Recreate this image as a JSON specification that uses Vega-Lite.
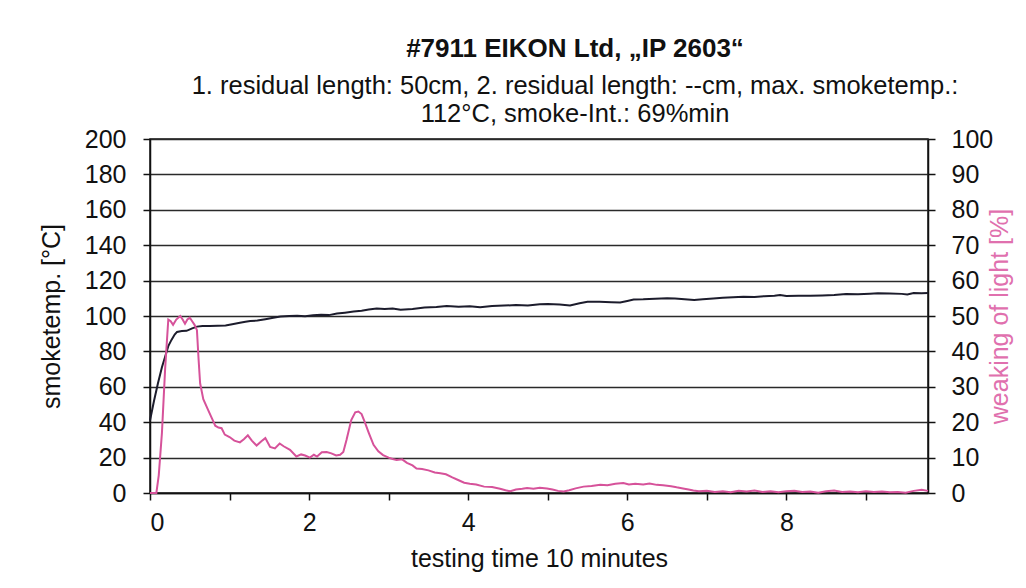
{
  "$schema": "https://vega.github.io/schema/vega-lite/v6.json",
  "width": 778,
  "height": 354,
  "autosize": "none",
  "padding": {"left": 150, "top": 139, "right": 98, "bottom": 95},
  "background": "white",
  "config": {
    "font": "Liberation Sans",
    "view": {"stroke": "#111111", "strokeWidth": 1.5},
    "axis": {
      "labelFont": "Liberation Sans",
      "titleFont": "Liberation Sans",
      "labelFontSize": 25,
      "titleFontSize": 25,
      "titleFontWeight": "normal",
      "labelColor": "#111111",
      "titleColor": "#111111",
      "domainColor": "#111111",
      "domainWidth": 1.5,
      "tickColor": "#111111",
      "tickWidth": 1.5,
      "tickSize": 7,
      "gridColor": "#2a2a2a",
      "gridWidth": 1.5,
      "gridOpacity": 1
    }
  },
  "title": {
    "text": "#7911   EIKON Ltd, „IP 2603“",
    "subtitle": ["1. residual length: 50cm, 2. residual length: --cm, max. smoketemp.:", "112°C, smoke-Int.: 69%min"],
    "font": "Liberation Sans",
    "subtitleFont": "Liberation Sans",
    "fontSize": 26,
    "fontWeight": "bold",
    "color": "#111111",
    "subtitleFontSize": 25.5,
    "subtitleColor": "#111111",
    "subtitleLineHeight": 28,
    "subtitlePadding": 12,
    "anchor": "middle",
    "dx": 36,
    "offset": 0
  },
  "datasets": {
    "temp": [
      {"t": 0, "c": 41}, {"t": 0.05, "c": 52}, {"t": 0.1, "c": 62}, {"t": 0.15, "c": 71}, {"t": 0.19, "c": 77},
      {"t": 0.23, "c": 83}, {"t": 0.27, "c": 86.5}, {"t": 0.31, "c": 89.5}, {"t": 0.34, "c": 91}, {"t": 0.4, "c": 91.5},
      {"t": 0.46, "c": 91.6}, {"t": 0.53, "c": 93}, {"t": 0.59, "c": 94}, {"t": 0.66, "c": 94.3}, {"t": 0.75, "c": 94.4},
      {"t": 0.85, "c": 94.5}, {"t": 0.95, "c": 94.6}, {"t": 1.05, "c": 95.5}, {"t": 1.13, "c": 96.2}, {"t": 1.2, "c": 96.8},
      {"t": 1.26, "c": 97.2}, {"t": 1.35, "c": 97.4}, {"t": 1.45, "c": 98.2}, {"t": 1.55, "c": 99}, {"t": 1.64, "c": 99.7},
      {"t": 1.75, "c": 100}, {"t": 1.85, "c": 100.2}, {"t": 1.95, "c": 99.9}, {"t": 2.05, "c": 100.4}, {"t": 2.15, "c": 100.7},
      {"t": 2.25, "c": 100.5}, {"t": 2.35, "c": 101.4}, {"t": 2.45, "c": 101.9}, {"t": 2.56, "c": 102.5}, {"t": 2.66, "c": 103},
      {"t": 2.75, "c": 103.7}, {"t": 2.85, "c": 104.2}, {"t": 2.95, "c": 104}, {"t": 3.05, "c": 104.2}, {"t": 3.15, "c": 103.5},
      {"t": 3.3, "c": 104}, {"t": 3.45, "c": 104.8}, {"t": 3.6, "c": 105.1}, {"t": 3.73, "c": 105.6}, {"t": 3.88, "c": 105.2},
      {"t": 4.02, "c": 105.5}, {"t": 4.15, "c": 104.9}, {"t": 4.3, "c": 105.6}, {"t": 4.45, "c": 105.9}, {"t": 4.6, "c": 106.2},
      {"t": 4.75, "c": 105.9}, {"t": 4.9, "c": 106.6}, {"t": 5.0, "c": 106.8}, {"t": 5.15, "c": 106.5}, {"t": 5.28, "c": 106},
      {"t": 5.4, "c": 107.2}, {"t": 5.5, "c": 108}, {"t": 5.65, "c": 108.1}, {"t": 5.8, "c": 107.8}, {"t": 5.91, "c": 107.6},
      {"t": 6.0, "c": 108.5}, {"t": 6.08, "c": 109.3}, {"t": 6.2, "c": 109.4}, {"t": 6.35, "c": 109.7}, {"t": 6.5, "c": 110},
      {"t": 6.6, "c": 109.9}, {"t": 6.72, "c": 109.4}, {"t": 6.84, "c": 109}, {"t": 6.95, "c": 109.5}, {"t": 7.08, "c": 109.9},
      {"t": 7.2, "c": 110.3}, {"t": 7.33, "c": 110.6}, {"t": 7.46, "c": 110.9}, {"t": 7.6, "c": 110.8}, {"t": 7.72, "c": 111.2},
      {"t": 7.85, "c": 111.5}, {"t": 7.92, "c": 111.9}, {"t": 8.0, "c": 111.3}, {"t": 8.15, "c": 111.4}, {"t": 8.3, "c": 111.5},
      {"t": 8.45, "c": 111.6}, {"t": 8.6, "c": 111.8}, {"t": 8.75, "c": 112.4}, {"t": 8.9, "c": 112.3}, {"t": 9.05, "c": 112.6},
      {"t": 9.15, "c": 112.8}, {"t": 9.3, "c": 112.7}, {"t": 9.45, "c": 112.5}, {"t": 9.52, "c": 112.2}, {"t": 9.6, "c": 113},
      {"t": 9.7, "c": 112.8}, {"t": 9.78, "c": 113}
    ],
    "light": [
      {"t": 0, "p": 0}, {"t": 0.08, "p": 0}, {"t": 0.11, "p": 5}, {"t": 0.15, "p": 17}, {"t": 0.19, "p": 35},
      {"t": 0.23, "p": 49}, {"t": 0.26, "p": 48.5}, {"t": 0.29, "p": 47.5}, {"t": 0.33, "p": 49}, {"t": 0.38, "p": 50},
      {"t": 0.41, "p": 49}, {"t": 0.44, "p": 47.8}, {"t": 0.47, "p": 49}, {"t": 0.5, "p": 49.5}, {"t": 0.53, "p": 48.5},
      {"t": 0.56, "p": 47.5}, {"t": 0.59, "p": 46}, {"t": 0.61, "p": 38}, {"t": 0.63, "p": 31}, {"t": 0.67, "p": 26.5},
      {"t": 0.73, "p": 23.5}, {"t": 0.78, "p": 21}, {"t": 0.82, "p": 19}, {"t": 0.86, "p": 18.5}, {"t": 0.9, "p": 18.3},
      {"t": 0.94, "p": 16.5}, {"t": 1.0, "p": 15.8}, {"t": 1.06, "p": 14.8}, {"t": 1.13, "p": 14.3}, {"t": 1.18, "p": 15.2},
      {"t": 1.23, "p": 16.3}, {"t": 1.28, "p": 14.8}, {"t": 1.34, "p": 13.4}, {"t": 1.4, "p": 14.6}, {"t": 1.45, "p": 15.5},
      {"t": 1.51, "p": 13}, {"t": 1.57, "p": 12.6}, {"t": 1.63, "p": 14}, {"t": 1.68, "p": 13.2}, {"t": 1.76, "p": 12.2},
      {"t": 1.84, "p": 10.3}, {"t": 1.9, "p": 10.9}, {"t": 1.95, "p": 10.6}, {"t": 2.01, "p": 10}, {"t": 2.06, "p": 10.8},
      {"t": 2.1, "p": 10.3}, {"t": 2.16, "p": 11.5}, {"t": 2.22, "p": 11.6}, {"t": 2.28, "p": 11.2}, {"t": 2.34, "p": 10.6},
      {"t": 2.39, "p": 10.8}, {"t": 2.43, "p": 11.6}, {"t": 2.47, "p": 15}, {"t": 2.53, "p": 20.6}, {"t": 2.58, "p": 22.8},
      {"t": 2.62, "p": 23}, {"t": 2.66, "p": 22.3}, {"t": 2.7, "p": 20}, {"t": 2.75, "p": 17}, {"t": 2.81, "p": 13.6},
      {"t": 2.87, "p": 11.8}, {"t": 2.93, "p": 10.7}, {"t": 3.0, "p": 10}, {"t": 3.05, "p": 9.6}, {"t": 3.1, "p": 9.3},
      {"t": 3.17, "p": 9.5}, {"t": 3.23, "p": 8.5}, {"t": 3.3, "p": 7.8}, {"t": 3.35, "p": 6.9}, {"t": 3.42, "p": 6.8},
      {"t": 3.5, "p": 6.4}, {"t": 3.58, "p": 5.8}, {"t": 3.65, "p": 5.6}, {"t": 3.72, "p": 5.3}, {"t": 3.8, "p": 4.4},
      {"t": 3.88, "p": 3.6}, {"t": 3.95, "p": 2.9}, {"t": 4.02, "p": 2.6}, {"t": 4.1, "p": 2.4}, {"t": 4.2, "p": 1.8},
      {"t": 4.3, "p": 1.7}, {"t": 4.4, "p": 1.2}, {"t": 4.47, "p": 0.8}, {"t": 4.53, "p": 0.5}, {"t": 4.6, "p": 1.0},
      {"t": 4.68, "p": 1.2}, {"t": 4.74, "p": 1.4}, {"t": 4.82, "p": 1.2}, {"t": 4.9, "p": 1.5}, {"t": 4.99, "p": 1.3},
      {"t": 5.06, "p": 1.0}, {"t": 5.13, "p": 0.6}, {"t": 5.2, "p": 0.4}, {"t": 5.27, "p": 0.8}, {"t": 5.35, "p": 1.3},
      {"t": 5.45, "p": 1.8}, {"t": 5.55, "p": 2.0}, {"t": 5.66, "p": 2.3}, {"t": 5.75, "p": 2.2}, {"t": 5.85, "p": 2.6},
      {"t": 5.95, "p": 2.8}, {"t": 6.02, "p": 2.4}, {"t": 6.1, "p": 2.6}, {"t": 6.2, "p": 2.4}, {"t": 6.28, "p": 2.7},
      {"t": 6.37, "p": 2.3}, {"t": 6.45, "p": 2.2}, {"t": 6.55, "p": 1.9}, {"t": 6.62, "p": 1.6}, {"t": 6.7, "p": 1.3},
      {"t": 6.77, "p": 1.0}, {"t": 6.83, "p": 0.7}, {"t": 6.9, "p": 0.5}, {"t": 7.0, "p": 0.6}, {"t": 7.1, "p": 0.3},
      {"t": 7.2, "p": 0.5}, {"t": 7.3, "p": 0.2}, {"t": 7.4, "p": 0.6}, {"t": 7.5, "p": 0.4}, {"t": 7.6, "p": 0.7},
      {"t": 7.7, "p": 0.3}, {"t": 7.8, "p": 0.5}, {"t": 7.9, "p": 0.2}, {"t": 8.0, "p": 0.5}, {"t": 8.1, "p": 0.6},
      {"t": 8.2, "p": 0.3}, {"t": 8.3, "p": 0.4}, {"t": 8.4, "p": 0.1}, {"t": 8.5, "p": 0.5}, {"t": 8.6, "p": 0.7},
      {"t": 8.7, "p": 0.3}, {"t": 8.8, "p": 0.4}, {"t": 8.9, "p": 0.2}, {"t": 9.0, "p": 0.5}, {"t": 9.1, "p": 0.3},
      {"t": 9.2, "p": 0.4}, {"t": 9.3, "p": 0.2}, {"t": 9.4, "p": 0.3}, {"t": 9.5, "p": 0.1}, {"t": 9.6, "p": 0.6},
      {"t": 9.7, "p": 0.9}, {"t": 9.78, "p": 0.6}
    ]
  },
  "encoding": {
    "x": {
      "field": "t",
      "type": "quantitative",
      "scale": {"domain": [0, 9.78], "nice": false, "zero": false},
      "axis": {
        "values": [0, 1, 2, 3, 4, 5, 6, 7, 8, 9],
        "labelExpr": "datum.value % 2 == 0 ? datum.label : ''",
        "title": "testing time 10 minutes",
        "grid": false,
        "labelPadding": 10,
        "titlePadding": 11
      }
    }
  },
  "layer": [
    {
      "data": {"name": "temp"},
      "mark": {"type": "line", "color": "#1c1c2c", "strokeWidth": 2},
      "encoding": {
        "y": {
          "field": "c",
          "type": "quantitative",
          "scale": {"domain": [0, 200], "nice": false},
          "axis": {
            "orient": "left",
            "values": [0, 20, 40, 60, 80, 100, 120, 140, 160, 180, 200],
            "title": "smoketemp. [°C]",
            "grid": true,
            "labelPadding": 17,
            "titlePadding": 20
          }
        }
      }
    },
    {
      "data": {"name": "light"},
      "mark": {"type": "line", "color": "#d6529a", "strokeWidth": 2},
      "encoding": {
        "y": {
          "field": "p",
          "type": "quantitative",
          "scale": {"domain": [0, 100], "nice": false},
          "axis": {
            "orient": "right",
            "values": [0, 10, 20, 30, 40, 50, 60, 70, 80, 90, 100],
            "title": "weaking of light [%]",
            "titleColor": "#e070ae",
            "titleAngle": 270,
            "grid": false,
            "labelAlign": "left",
            "labelPadding": 16,
            "titlePadding": 20
          }
        }
      }
    }
  ],
  "resolve": {"scale": {"y": "independent"}}
}
